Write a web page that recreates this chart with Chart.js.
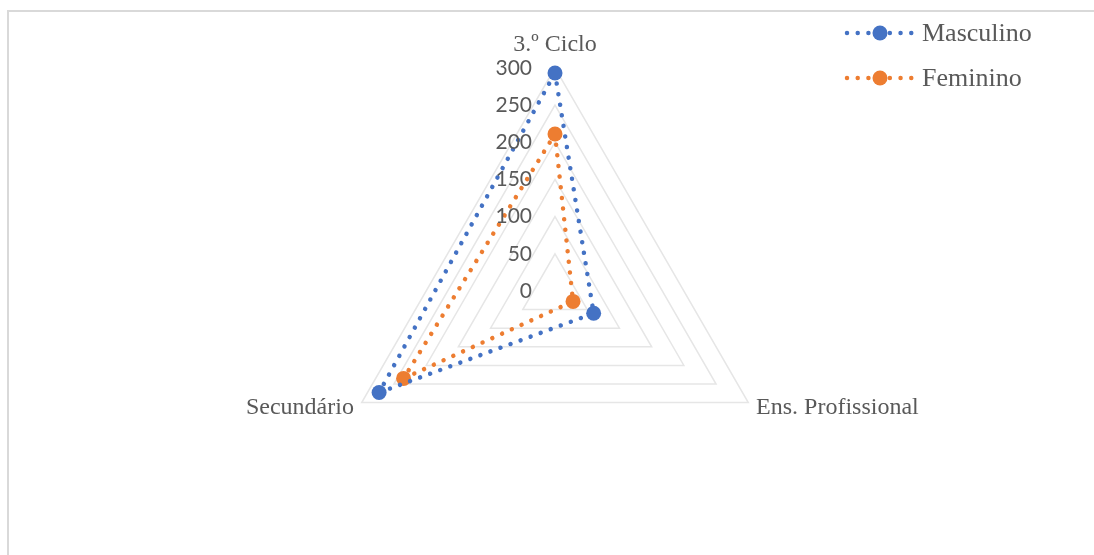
<!DOCTYPE html>
<html>
<head>
<meta charset="utf-8">
<script src="https://cdn.jsdelivr.net/npm/chart.js@4.4.1/dist/chart.umd.min.js"></script>
<style>
  html, body { margin: 0; padding: 0; background: #fff; }
  #wrap { position: relative; width: 1094px; height: 555px; }
</style>
</head>
<body>
<div id="wrap"><canvas id="chart" width="1094" height="555"></canvas></div>
<script>
const categories = ['3.º Ciclo', 'Ens. Profissional', 'Secundário'];
const masculino = [293, 60, 273];
const feminino = [211, 28, 235];
const tickMin = 0;
const tickMax = 300;
const tickStep = 50;

const BLUE = '#4472C4';
const ORANGE = '#ED7D31';
const TEXT = '#595959';
const DOTS = [0.01, 10.7];

// frame + tick labels (right aligned left of the axis, like Excel)
const extras = {
    id: 'extras',
    beforeDraw(chart) {
        const ctx = chart.ctx;
        ctx.save();
        ctx.strokeStyle = '#d9d9d9';
        ctx.lineWidth = 2;
        ctx.beginPath();
        ctx.moveTo(8, 555);
        ctx.lineTo(8, 11);
        ctx.lineTo(1094, 11);
        ctx.stroke();
        ctx.restore();
    },
    afterDraw(chart) {
        const ctx = chart.ctx;
        const scale = chart.scales.r;
        ctx.save();
        ctx.font = '21px Lato';
        ctx.fillStyle = TEXT;
        ctx.textAlign = 'right';
        ctx.textBaseline = 'middle';
        scale.ticks.forEach(t => {
            const y = scale.yCenter - scale.getDistanceFromCenterForValue(t.value);
            ctx.fillText(t.label, scale.xCenter - 23, y);
        });

        // legend
        ctx.font = '26px "Liberation Serif"';
        ctx.textAlign = 'left';
        chart.data.datasets.forEach((ds, i) => {
            const y = 33 + i * 45;
            ctx.strokeStyle = ds.borderColor;
            ctx.lineWidth = ds.borderWidth;
            ctx.lineCap = 'round';
            ctx.setLineDash(DOTS);
            ctx.beginPath();
            ctx.moveTo(847, y);
            ctx.lineTo(913, y);
            ctx.stroke();
            ctx.setLineDash([]);
            ctx.fillStyle = ds.pointBackgroundColor;
            ctx.beginPath();
            ctx.arc(880, y, 7.5, 0, Math.PI * 2);
            ctx.fill();
            ctx.fillStyle = TEXT;
            ctx.fillText(ds.label, 922, y + 1);
        });
        ctx.restore();
    }
};

function series(label, data, color) {
    return {
        label: label,
        data: data,
        borderColor: color,
        backgroundColor: 'transparent',
        borderWidth: 4.5,
        borderDash: DOTS,
        borderCapStyle: 'round',
        fill: false,
        pointRadius: 7.5,
        pointHoverRadius: 7.5,
        pointBackgroundColor: color,
        pointBorderColor: color,
        pointBorderWidth: 0
    };
}

new Chart(document.getElementById('chart').getContext('2d'), {
    type: 'radar',
    data: {
        labels: categories,
        datasets: [
            series('Masculino', masculino, BLUE),
            series('Feminino', feminino, ORANGE)
        ]
    },
    options: {
        responsive: false,
        animation: false,
        layout: { padding: { left: 20, right: 4, top: 12, bottom: 21 } },
        plugins: {
            legend: { display: false },
            tooltip: { enabled: false }
        },
        scales: {
            r: {
                min: tickMin,
                max: tickMax,
                ticks: { display: false, stepSize: tickStep },
                angleLines: { display: false },
                grid: { color: '#e6e6e6', lineWidth: 1.5 },
                pointLabels: {
                    font: { family: '"Liberation Serif"', size: 24 },
                    color: TEXT,
                    padding: 9
                },
                afterFit(scale) {
                    // Excel centres the lower labels on the vertex height
                    (scale._pointLabelItems || []).forEach((item, i) => {
                        if (i > 0) {
                            item.y -= 14;
                            item.top -= 14;
                            item.bottom -= 14;
                        }
                    });
                }
            }
        }
    },
    plugins: [extras]
});
</script>
</body>
</html>
